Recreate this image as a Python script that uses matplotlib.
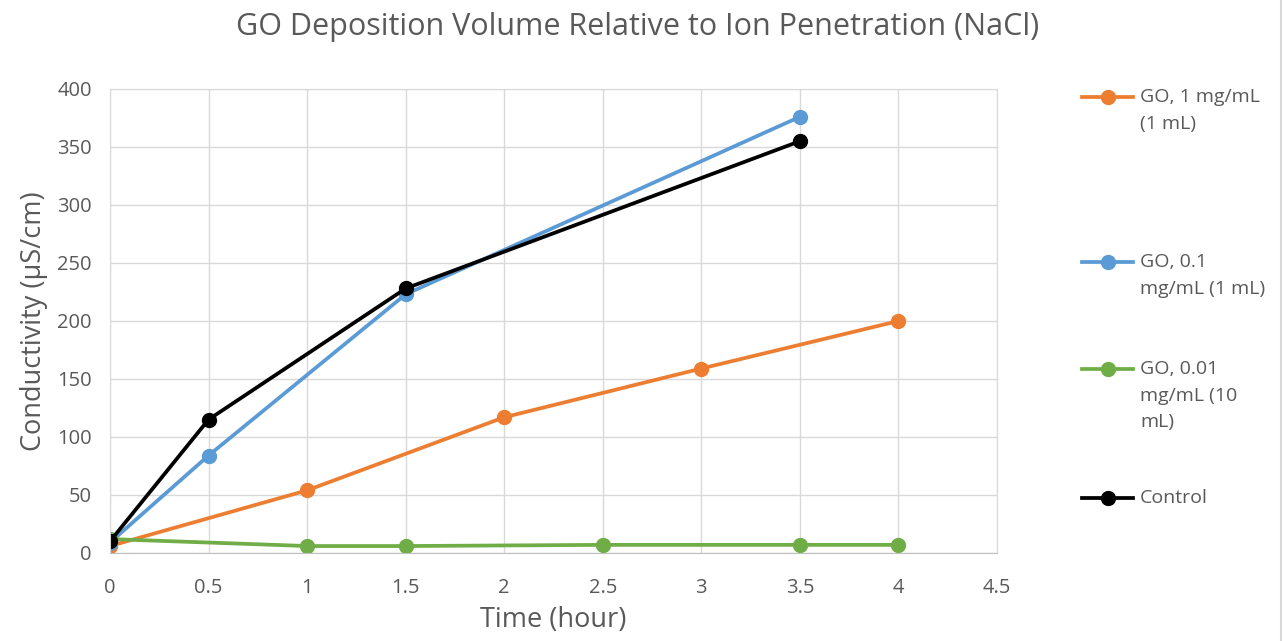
import matplotlib.pyplot as plt
from matplotlib.lines import Line2D

plt.rcParams['font.family'] = ['Open Sans', 'DejaVu Sans']

# measurements (hours, µS/cm)
t_go1 = [0, 1, 2, 3, 4]
c_go1 = [6, 54, 117, 159, 200]

t_go01 = [0, 0.5, 1.5, 3.5]
c_go01 = [9, 84, 223, 376]

t_go001 = [0, 1, 1.5, 2.5, 3.5, 4]
c_go001 = [12, 6, 6, 7, 7, 7]

t_ctrl = [0, 0.5, 1.5, 3.5]
c_ctrl = [10, 115, 228, 355]

labels = ['GO, 1 mg/mL\n(1 mL)', 'GO, 0.1\nmg/mL (1 mL)', 'GO, 0.01\nmg/mL (10\nmL)', 'Control']
colors = ['#ED7D31', '#5B9BD5', '#70AD47', '#000000']
xticks = [0, 0.5, 1, 1.5, 2, 2.5, 3, 3.5, 4, 4.5]
yticks = [0, 50, 100, 150, 200, 250, 300, 350, 400]

txt = '#595959'
grid = '#D9D9D9'

fig = plt.figure(figsize=(12.83, 6.41), dpi=100)
ax = fig.add_axes([0.0857, 0.1373, 0.6914, 0.7239])

series = [(t_go1, c_go1), (t_go01, c_go01), (t_go001, c_go001), (t_ctrl, c_ctrl)]
for (t, c), col in zip(series, colors):
    ax.plot(t, c, color=col, lw=2.7, marker='o', ms=10, solid_capstyle='round')

ax.set_xlim(0, 4.5)
ax.set_ylim(0, 400)
ax.set_xticks(xticks)
ax.set_xticklabels([f'{v:g}' for v in xticks])
ax.set_yticks(yticks)
ax.grid(True, color=grid, lw=1)
ax.set_axisbelow(True)
for s in ax.spines.values():
    s.set_color(grid)
ax.spines['bottom'].set_color('#BFBFBF')
ax.tick_params(length=0, labelsize=14.5, colors=txt)
ax.tick_params(axis='x', pad=18)
ax.tick_params(axis='y', pad=13)

ax.set_xlabel('Time (hour)', fontsize=19.5, color=txt, labelpad=6)
ax.set_ylabel('Conductivity (µS/cm)', fontsize=19.5, color=txt, labelpad=7)
fig.text(0.497, 0.958, 'GO Deposition Volume Relative to Ion Penetration (NaCl)',
         ha='center', va='center', fontsize=22, color=txt)

# legend on the right, one entry per series
legend_y = [97, 262, 369, 498]
for lab, col, py in zip(labels, colors, legend_y):
    yf = 1 - py / 641
    fig.add_artist(Line2D([1082 / 1283, 1133 / 1283], [yf, yf], color=col, lw=2.7,
                          transform=fig.transFigure))
    fig.add_artist(Line2D([1108 / 1283], [yf], color=col, marker='o', ms=10,
                          transform=fig.transFigure))
    fig.text(1140 / 1283, yf + 0.0135, lab, ha='left', va='top', fontsize=14,
             color=txt, linespacing=1.6)

fig.add_artist(Line2D([1281 / 1283, 1281 / 1283], [0, 1], color=grid, lw=1.5,
                      transform=fig.transFigure))

fig.savefig('out.png', dpi=100)
